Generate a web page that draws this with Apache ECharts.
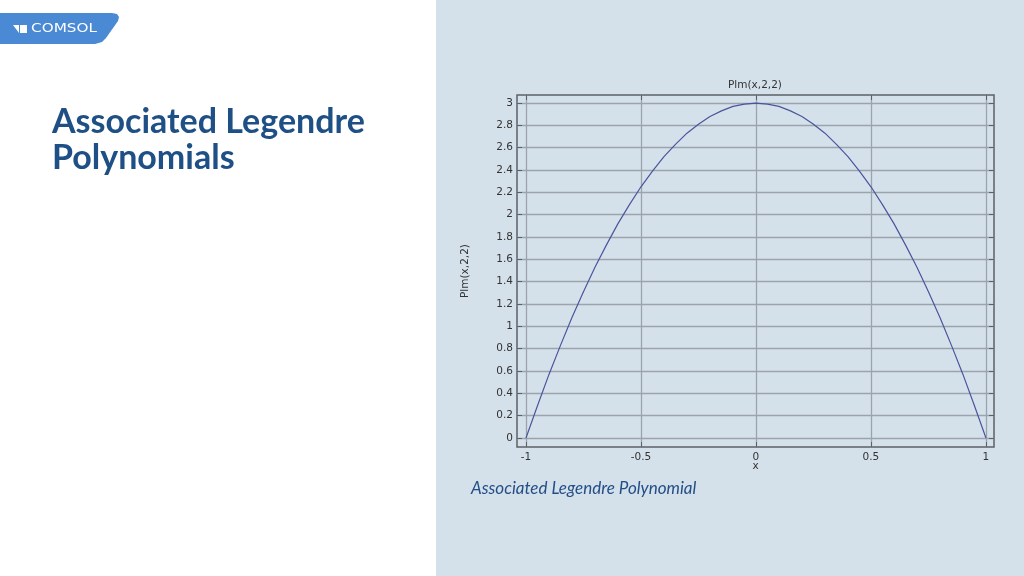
<!DOCTYPE html>
<html>
<head>
<meta charset="utf-8">
<script src="https://cdn.jsdelivr.net/npm/echarts@6/dist/echarts.min.js"></script>
<style>
html,body{margin:0;padding:0;width:1024px;height:576px;overflow:hidden;background:#fff;}
#panel{position:absolute;left:436px;top:0;width:588px;height:576px;background:#d4e1eb;}
#chart{position:absolute;left:0;top:0;width:1024px;height:576px;}
</style>
</head>
<body>
<div id="panel"></div>
<div id="chart"></div>
<script>
// Data
const xValues = [-1,-0.95,-0.9,-0.85,-0.8,-0.75,-0.7,-0.65,-0.6,-0.55,-0.5,-0.45,-0.4,-0.35,-0.3,-0.25,-0.2,-0.15,-0.1,-0.05,0,
                 0.05,0.1,0.15,0.2,0.25,0.3,0.35,0.4,0.45,0.5,0.55,0.6,0.65,0.7,0.75,0.8,0.85,0.9,0.95,1];
const yValues = [0,0.29,0.57,0.83,1.08,1.31,1.53,1.73,1.92,2.09,2.25,2.39,2.52,2.63,2.73,2.81,2.88,2.93,2.97,2.99,3,
                 2.99,2.97,2.93,2.88,2.81,2.73,2.63,2.52,2.39,2.25,2.09,1.92,1.73,1.53,1.31,1.08,0.83,0.57,0.29,0];
const xTicks = [-1,-0.5,0,0.5,1];
const yTicks = [0,0.2,0.4,0.6,0.8,1,1.2,1.4,1.6,1.8,2,2.2,2.4,2.6,2.8,3];
const chartTitle = 'Plm(x,2,2)';
const yName = 'Plm(x,2,2)';
const xName = 'x';
const heading = ['Associated Legendre', 'Polynomials'];
const caption = 'Associated Legendre Polynomial';

const chart = echarts.init(document.getElementById('chart'));
const axisFont = {fontFamily:'DejaVu Sans', fontSize:10.5, color:'#333'};
const gridLine = {show:true, lineStyle:{color:'#9ba4ab', width:1.3}};
const tickStyle = {color:'#5c6166', width:1};
const xMin = -1.039, xMax = 1.035, yMin = -0.08, yMax = 3.072;

chart.setOption({
  animation:false,
  grid:{left:517, top:95, width:477, height:352, show:true, borderColor:'#5c6166', borderWidth:1.5, backgroundColor:'transparent'},
  xAxis:[
    {type:'value', min:xMin, max:xMax, position:'bottom',
     axisLine:{show:false, onZero:false},
     axisTick:{show:true, inside:true, length:5, customValues:xTicks, lineStyle:tickStyle},
     axisLabel:Object.assign({customValues:xTicks, margin:5}, axisFont),
     splitLine:gridLine,
     name:xName, nameLocation:'middle', nameGap:14, nameMoveOverlap:false, nameTextStyle:axisFont},
    {type:'value', min:xMin, max:xMax, position:'top',
     axisLine:{show:false, onZero:false},
     axisTick:{show:true, inside:true, length:5, customValues:xTicks, lineStyle:tickStyle},
     axisLabel:{show:false}, splitLine:{show:false}}
  ],
  yAxis:[
    {type:'value', min:yMin, max:yMax, position:'left',
     axisLine:{show:false, onZero:false},
     axisTick:{show:true, inside:true, length:5, customValues:yTicks, lineStyle:tickStyle},
     axisLabel:Object.assign({customValues:yTicks, margin:4}, axisFont),
     splitLine:gridLine,
     name:yName, nameLocation:'middle', nameGap:46, nameMoveOverlap:false, nameRotate:90, nameTextStyle:axisFont},
    {type:'value', min:yMin, max:yMax, position:'right',
     axisLine:{show:false, onZero:false},
     axisTick:{show:true, inside:true, length:5, customValues:yTicks, lineStyle:tickStyle},
     axisLabel:{show:false}, splitLine:{show:false}}
  ],
  series:[{
    type:'line', xAxisIndex:0, yAxisIndex:0, showSymbol:false, silent:true,
    data:xValues.map((x,i)=>[x,yValues[i]]),
    lineStyle:{color:'#4b559c', width:1.2}, itemStyle:{color:'#4b559c'}
  }],
  graphic:[
    {type:'text', x:755, y:85, style:{text:chartTitle, textAlign:'center', textVerticalAlign:'middle', font:'10.5px "DejaVu Sans"', fill:'#333'}},
    {type:'text', x:52, y:122, style:{text:heading[0], textVerticalAlign:'middle', font:'bold 34px Lato', fill:'#1e4f85'}},
    {type:'text', x:52, y:158, style:{text:heading[1], textVerticalAlign:'middle', font:'bold 34px Lato', fill:'#1e4f85'}},
    {type:'text', x:471, y:489, style:{text:caption, textVerticalAlign:'middle', font:'italic 17px Lato', fill:'#234e86'}},
    {type:'polygon', shape:{points:[[0,13],[112,13],[117,14],[119,17],[118,21],[106,38],[102,42],[95,44],[0,44]]}, style:{fill:'#4a89d4'}},
    {type:'polygon', shape:{points:[[13,25],[19,25],[19,33]]}, style:{fill:'#ffffff'}},
    {type:'rect', shape:{x:20, y:25, width:7, height:8}, style:{fill:'#ffffff'}},
    {type:'text', x:31, y:29, scaleX:1.27, scaleY:1, originX:0, originY:0,
     style:{text:'COMSOL', textVerticalAlign:'middle', font:'12px "DejaVu Sans"', fill:'#ffffff'}}
  ]
});
</script>
</body>
</html>
